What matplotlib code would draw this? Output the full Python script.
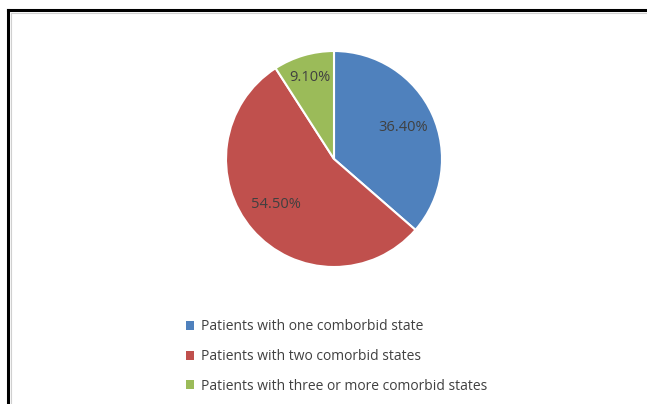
import matplotlib.pyplot as plt
from matplotlib.lines import Line2D
from matplotlib.patches import Patch

labels = ['Patients with one comborbid state',
          'Patients with two comorbid states',
          'Patients with three or more comorbid states']
shares = [36.4, 54.5, 9.1]
colors = ['#4F81BD', '#C0504D', '#9BBB59']

plt.rcParams['font.family'] = ['Open Sans', 'DejaVu Sans']

fig = plt.figure(figsize=(6.47, 4.04), dpi=100)
W, H = 647, 404

# pie axes: center (334,159), radius ~107 px
r = 108
cx, cy = 334, 159
ax = fig.add_axes([(cx - r) / W, 1 - (cy + r) / H, 2 * r / W, 2 * r / H])
wedges, texts, autotexts = ax.pie(shares, colors=colors, startangle=90, counterclock=False,
                                  autopct=lambda p: '%.2f%%' % p, pctdistance=0.7,
                                  wedgeprops=dict(edgecolor='white', linewidth=1.5))
for t in autotexts:
    t.set_color('#404040')
    t.set_fontsize(10.5)
# nudge the small slice's label outward like the original
x, y = autotexts[2].get_position()
autotexts[2].set_position((x * 1.15, y * 1.12))
x, y = autotexts[1].get_position()
autotexts[1].set_position((x * 1.02, y * 0.93))
ax.set_xlim(-1, 1)
ax.set_ylim(-1, 1)
ax.set_aspect('equal')

handles = [Patch(facecolor=c, edgecolor='none') for c in colors]
leg = fig.legend(handles, labels, loc='upper left', bbox_to_anchor=(173 / W, 1 - 307 / H),
                 frameon=False, fontsize=10, labelcolor='#404040', handlelength=0.6,
                 handleheight=0.6, handletextpad=0.5, labelspacing=1.05)

# chart frame (black outer, grey inner)
fig.add_artist(Line2D([8 / W, 1], [1 - 10 / H, 1 - 10 / H], color='black', lw=2.2))
fig.add_artist(Line2D([8 / W, 8 / W], [0, 1 - 10 / H], color='black', lw=2.2))
fig.add_artist(Line2D([11 / W, 1], [1 - 13 / H, 1 - 13 / H], color='#d0d0d0', lw=0.8))
fig.add_artist(Line2D([11 / W, 11 / W], [0, 1 - 13 / H], color='#d0d0d0', lw=0.8))

fig.savefig('out.png', dpi=100)
